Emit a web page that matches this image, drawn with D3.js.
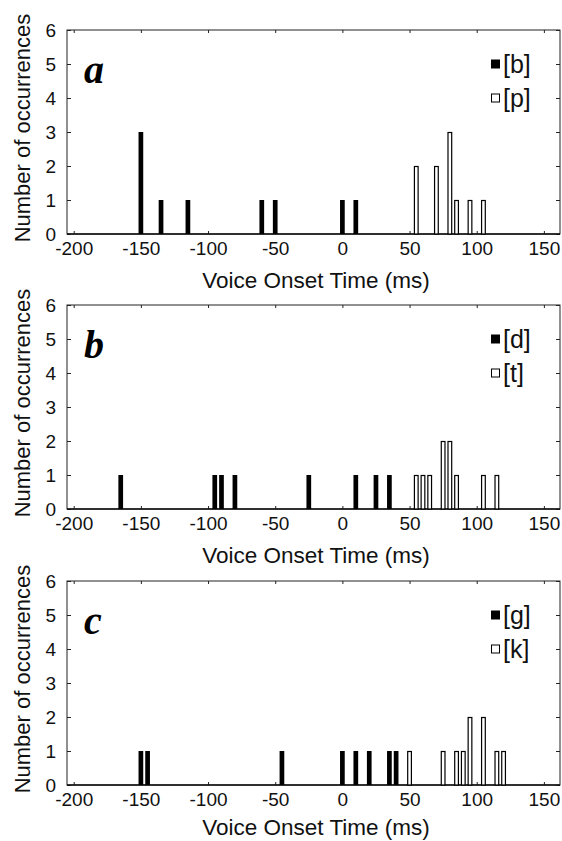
<!DOCTYPE html>
<html>
<head>
<meta charset="utf-8">
<script src="https://cdn.jsdelivr.net/npm/d3@7"></script>
<style>
  html, body { margin: 0; padding: 0; background: #fff; }
  svg { display: block; }
</style>
</head>
<body>
<svg id="chart" width="562" height="841"></svg>
<script>
// ---- data ----
const xTicks = [-200, -150, -100, -50, 0, 50, 100, 150];
const yTicks = [0, 1, 2, 3, 4, 5, 6];
const panelLetters = ["a", "b", "c"];
const voicedLabels = ["[b]", "[d]", "[g]"];
const voicelessLabels = ["[p]", "[t]", "[k]"];
const xTitle = "Voice Onset Time (ms)";
const yTitle = "Number of occurrences";

const bVOT = [-150, -135, -115, -60, -50, 0, 10];
const bCount = [3, 1, 1, 1, 1, 1, 1];
const pVOT = [55, 70, 80, 85, 95, 105];
const pCount = [2, 2, 3, 1, 1, 1];

const dVOT = [-165, -95, -90, -80, -25, 10, 25, 35];
const dCount = [1, 1, 1, 1, 1, 1, 1, 1];
const tVOT = [55, 60, 65, 75, 80, 85, 105, 115];
const tCount = [1, 1, 1, 2, 2, 1, 1, 1];

const gVOT = [-150, -145, -45, 0, 10, 20, 35, 40];
const gCount = [1, 1, 1, 1, 1, 1, 1, 1];
const kVOT = [50, 75, 85, 90, 95, 105, 115, 120];
const kCount = [1, 1, 1, 1, 2, 2, 1, 1];

const voicedVOT = [bVOT, dVOT, gVOT];
const voicedCount = [bCount, dCount, gCount];
const voicelessVOT = [pVOT, tVOT, kVOT];
const voicelessCount = [pCount, tCount, kCount];

// ---- layout ----
const svg = d3.select("#chart");
const left = 67, right = 560, plotH = 204;
const panelTops = [30, 305, 581];
const barW = 3.5; // ms
const x = d3.scaleLinear().domain([-205, 162]).range([left, right]);
const y = d3.scaleLinear().domain([0, 6]);
const sans = "'Liberation Sans', Arial, Helvetica, sans-serif";
const serif = "'Liberation Serif', 'Times New Roman', serif";
const fmt = d => String(d);

panelLetters.forEach((letter, i) => {
  const top = panelTops[i];
  const bottom = top + plotH;
  y.range([bottom, top]);
  const g = svg.append("g");

  // frame
  g.append("rect").attr("x", left).attr("y", top)
    .attr("width", right - left).attr("height", plotH)
    .attr("fill", "none").attr("stroke", "#222").attr("stroke-width", 1);

  // left axis (ticks inward)
  const yAxis = g.append("g").attr("transform", `translate(${left},0)`)
    .call(d3.axisLeft(y).tickValues(yTicks).tickFormat(fmt).tickSize(-4).tickPadding(11));
  yAxis.select(".domain").remove();
  yAxis.selectAll("line").attr("stroke", "#222");
  yAxis.selectAll("text").attr("font-family", sans).attr("font-size", 19).attr("fill", "#111");

  // right ticks
  const yAxisR = g.append("g").attr("transform", `translate(${right},0)`)
    .call(d3.axisRight(y).tickValues(yTicks).tickFormat("").tickSize(-4));
  yAxisR.select(".domain").remove();
  yAxisR.selectAll("line").attr("stroke", "#222");

  // bottom axis
  const xAxis = g.append("g").attr("transform", `translate(0,${bottom})`)
    .call(d3.axisBottom(x).tickValues(xTicks).tickFormat(fmt).tickSize(-3).tickPadding(8));
  xAxis.select(".domain").remove();
  xAxis.selectAll("line").attr("stroke", "#222");
  xAxis.selectAll("text").attr("font-family", sans).attr("font-size", 19).attr("fill", "#111");

  // top ticks
  const xAxisT = g.append("g").attr("transform", `translate(0,${top})`)
    .call(d3.axisTop(x).tickValues(xTicks).tickFormat("").tickSize(-3));
  xAxisT.select(".domain").remove();
  xAxisT.selectAll("line").attr("stroke", "#222");

  // baseline
  g.append("line").attr("x1", left).attr("x2", right)
    .attr("y1", y(0)).attr("y2", y(0)).attr("stroke", "#111").attr("stroke-width", 1.5);

  // voiced bars (filled)
  const vData = voicedVOT[i].map((v, j) => ({ v, c: voicedCount[i][j] }));
  g.selectAll("rect.voiced").data(vData).enter().append("rect")
    .attr("class", "voiced")
    .attr("x", d => x(d.v - barW / 2))
    .attr("width", d => x(d.v + barW / 2) - x(d.v - barW / 2))
    .attr("y", d => y(d.c))
    .attr("height", d => y(0) - y(d.c))
    .attr("fill", "#000");

  // voiceless bars (open)
  const uData = voicelessVOT[i].map((v, j) => ({ v, c: voicelessCount[i][j] }));
  g.selectAll("rect.voiceless").data(uData).enter().append("rect")
    .attr("class", "voiceless")
    .attr("x", d => x(d.v - barW / 2) + 0.5)
    .attr("width", d => x(d.v + barW / 2) - x(d.v - barW / 2) - 1)
    .attr("y", d => y(d.c) + 0.5)
    .attr("height", d => y(0) - y(d.c) - 0.5)
    .attr("fill", "#fff").attr("stroke", "#000").attr("stroke-width", 1.2);

  // panel letter
  g.append("text").attr("x", 84).attr("y", y(4.8) + 12)
    .attr("font-family", serif).attr("font-weight", "bold").attr("font-style", "italic")
    .attr("font-size", 40).attr("fill", "#000").text(letter);

  // legend
  const lx = 491;
  g.append("rect").attr("x", lx).attr("y", y(5) - 4.5).attr("width", 9).attr("height", 9)
    .attr("fill", "#000");
  g.append("text").attr("x", lx + 12).attr("y", y(5)).attr("dy", "0.35em")
    .attr("font-family", sans).attr("font-size", 25).attr("fill", "#111").text(voicedLabels[i]);
  g.append("rect").attr("x", lx + 0.5).attr("y", y(4) - 4).attr("width", 8).attr("height", 8)
    .attr("fill", "#fff").attr("stroke", "#000").attr("stroke-width", 1);
  g.append("text").attr("x", lx + 12).attr("y", y(4)).attr("dy", "0.35em")
    .attr("font-family", sans).attr("font-size", 25).attr("fill", "#111").text(voicelessLabels[i]);

  // x title
  g.append("text").attr("x", 316).attr("y", Math.min(bottom + 54, 835))
    .attr("text-anchor", "middle").attr("font-family", sans).attr("font-size", 22.5)
    .attr("fill", "#111").text(xTitle);

  // y title
  g.append("text")
    .attr("transform", `translate(30,${(top + bottom) / 2 - 4}) rotate(-90)`)
    .attr("text-anchor", "middle").attr("font-family", sans).attr("font-size", 22)
    .attr("fill", "#111").text(yTitle);
});
</script>
</body>
</html>
